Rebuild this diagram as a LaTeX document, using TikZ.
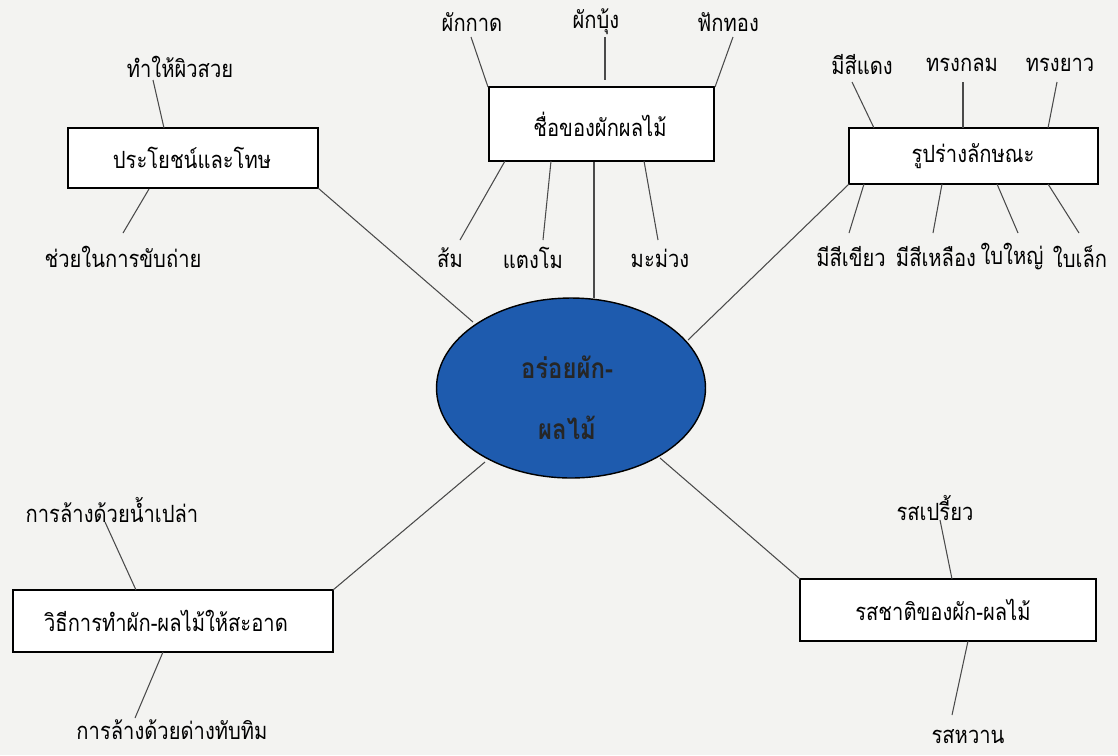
\documentclass[tikz,border=0pt]{standalone}
\usepackage{fontspec}
\newfontfamily\thaifont[Script=Thai,FakeStretch=0.85]{Loma}
\usetikzlibrary{shapes.geometric}
\definecolor{bgc}{HTML}{F3F3F1}
\definecolor{hubblue}{HTML}{1E5BAE}
\definecolor{linec}{HTML}{4A4A4A}
\tikzset{
  topic/.style={draw=black, line width=1.1pt, fill=white, inner sep=0pt, anchor=north west},
  lbl/.style={font=\thaifont\fontsize{13.5}{15}\selectfont, inner sep=0pt},
  boxtxt/.style={font=\thaifont\fontsize{13.5}{15}\selectfont},
  conn/.style={draw=linec, line width=0.6pt},
  hubtxt/.style={font=\thaifont\bfseries\fontsize{16}{17}\selectfont, text=black!85, inner sep=0pt},
}
\begin{document}
\begin{tikzpicture}[x=0.02cm,y=-0.02cm]
\fill[bgc] (0,0) rectangle (1118,755);
\useasboundingbox (0,0) rectangle (1118,755);

% hub
\node[ellipse, draw=black, line width=0.8pt, fill=hubblue, minimum width=5.38cm, minimum height=3.6cm, inner sep=0pt] (hub) at (571,388) {};
\node[hubtxt] (hubA) at (567,367) {อร่อยผัก-};
\node[hubtxt] (hubB) at (567,428) {ผลไม้};

% boxes
\draw[topic] (68,128) rectangle (318,188);
\node[boxtxt] (b1) at (192,158) {ประโยชน์และโทษ};
\draw[topic] (489,87) rectangle (714,161);
\node[boxtxt] (b2) at (600,124) {ชื่อของผักผลไม้};
\draw[topic] (849,128) rectangle (1098,184);
\node[boxtxt] (b3) at (973,156) {รูปร่างลักษณะ};
\draw[topic] (13,590) rectangle (333,652);
\node[boxtxt] (b4) at (166,621) {วิธีการทำผัก-ผลไม้ให้สะอาด};
\draw[topic] (800,579) rectangle (1096,641);
\node[boxtxt] (b5) at (943,610) {รสชาติของผัก-ผลไม้};

% labels
\node[lbl] (l1a) at (180,67) {ทำให้ผิวสวย};
\node[lbl] (l1b) at (123,257) {ช่วยในการขับถ่าย};
\node[lbl] (l2a) at (472,22) {ผักกาด};
\node[lbl] (l2b) at (596,22) {ผักบุ้ง};
\node[lbl] (l2c) at (728,22) {ฟักทอง};
\node[lbl] (l2d) at (450,258) {ส้ม};
\node[lbl] (l2e) at (533,258) {แตงโม};
\node[lbl] (l2f) at (660,258) {มะม่วง};
\node[lbl] (l3a) at (862,65) {มีสีแดง};
\node[lbl] (l3b) at (962,65) {ทรงกลม};
\node[lbl] (l3c) at (1060,65) {ทรงยาว};
\node[lbl] (l3d) at (851,257) {มีสีเขียว};
\node[lbl] (l3e) at (936,257) {มีสีเหลือง};
\node[lbl] (l3f) at (1012,257) {ใบใหญ่};
\node[lbl] (l3g) at (1080,257) {ใบเล็ก};
\node[lbl] (l4a) at (112,510) {การล้างด้วยน้ำเปล่า};
\node[lbl] (l4b) at (172,730) {การล้างด้วยด่างทับทิม};
\node[lbl] (l5a) at (935,508) {รสเปรี้ยว};
\node[lbl] (l5b) at (968,737) {รสหวาน};

% connector end points
\coordinate (h1) at (473,322);
\coordinate (h2) at (594,298);
\coordinate (h3) at (688,340);
\coordinate (h4) at (485,462);
\coordinate (h5) at (660,458);
\coordinate (c1) at (318,188);
\coordinate (c2) at (594,162);
\coordinate (c3) at (849,184);
\coordinate (c4) at (333,590);
\coordinate (c5) at (800,579);

\draw[conn] (h1) -- (c1);
\draw[conn] (h2) -- (c2);
\draw[conn] (h3) -- (c3);
\draw[conn] (h4) -- (c4);
\draw[conn] (h5) -- (c5);

% spokes
\coordinate (s1a) at (153,80);  \coordinate (t1a) at (164,128);
\coordinate (s1b) at (123,233); \coordinate (t1b) at (149,189);
\draw[conn] (s1a) -- (t1a);
\draw[conn] (s1b) -- (t1b);

\coordinate (s2a) at (471,37);  \coordinate (t2a) at (488,87);
\coordinate (s2b) at (605,37);  \coordinate (t2b) at (605,80);
\coordinate (s2c) at (733,37);  \coordinate (t2c) at (715,87);
\coordinate (s2d) at (460,240); \coordinate (t2d) at (505,161);
\coordinate (s2e) at (543,240); \coordinate (t2e) at (551,161);
\coordinate (s2f) at (658,240); \coordinate (t2f) at (644,161);
\foreach \i in {a,b,c,d,e,f} \draw[conn] (s2\i) -- (t2\i);

\coordinate (s3a) at (852,82);  \coordinate (t3a) at (874,128);
\coordinate (s3b) at (963,82);  \coordinate (t3b) at (963,128);
\coordinate (s3c) at (1057,82); \coordinate (t3c) at (1048,128);
\coordinate (s3d) at (849,233); \coordinate (t3d) at (864,184);
\coordinate (s3e) at (933,233); \coordinate (t3e) at (942,184);
\coordinate (s3f) at (1018,233); \coordinate (t3f) at (997,184);
\coordinate (s3g) at (1079,233); \coordinate (t3g) at (1048,184);
\foreach \i in {a,b,c,d,e,f,g} \draw[conn] (s3\i) -- (t3\i);

\coordinate (s4a) at (105,522); \coordinate (t4a) at (136,590);
\coordinate (s4b) at (135,718); \coordinate (t4b) at (163,652);
\draw[conn] (s4a) -- (t4a);
\draw[conn] (s4b) -- (t4b);

\coordinate (s5a) at (940,520); \coordinate (t5a) at (952,579);
\coordinate (s5b) at (952,715); \coordinate (t5b) at (968,641);
\draw[conn] (s5a) -- (t5a);
\draw[conn] (s5b) -- (t5b);
\end{tikzpicture}
\end{document}
